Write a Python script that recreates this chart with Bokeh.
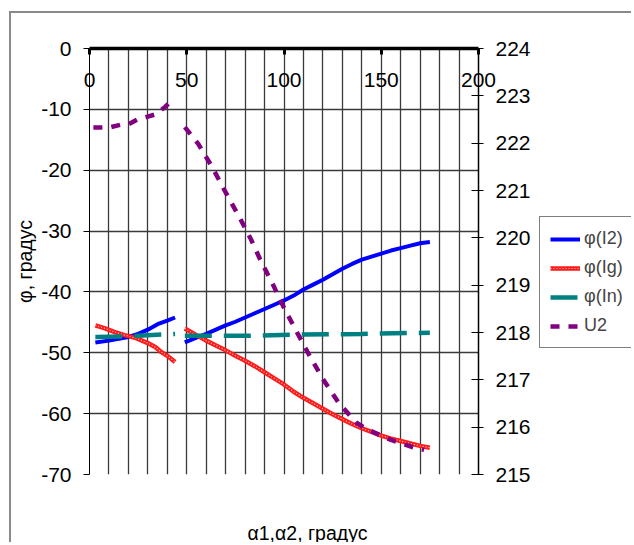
import numpy as np
from bokeh.plotting import figure
from bokeh.layouts import row
from bokeh.models import (Range1d, LinearAxis, FixedTicker, Legend, LegendItem, Title,
                          PrintfTickFormatter)
from bokeh.embed import file_html
from bokeh.resources import INLINE

# ---- data ----
x_ticks = [0, 50, 100, 150, 200]
y_left_ticks = [-70, -60, -50, -40, -30, -20, -10, 0]
y_right_ticks = [215, 216, 217, 218, 219, 220, 221, 222, 223, 224]

i2_x1 = [3, 10, 15, 20, 25, 30, 35, 40, 44]
i2_y1 = [-48.3, -48.0, -47.7, -47.4, -46.9, -46.2, -45.3, -44.7, -44.2]
i2_x2 = [49, 55, 60, 65, 70, 75, 80, 85, 90, 95, 100, 105, 110, 115, 120, 125,
         130, 135, 140, 145, 150, 155, 160, 165, 170, 175]
i2_y2 = [-48.3, -47.5, -46.9, -46.2, -45.5, -44.9, -44.2, -43.5, -42.8, -42.1,
         -41.4, -40.6, -39.6, -38.8, -38.0, -37.1, -36.2, -35.4, -34.7, -34.2,
         -33.7, -33.2, -32.8, -32.4, -32.0, -31.8]

ig_x1 = [3, 8, 13, 18, 24, 30, 34, 37, 40, 44]
ig_y1 = [-45.5, -46.0, -46.6, -47.1, -47.6, -48.4, -49.1, -49.9, -50.5, -51.5]
ig_x2 = [49, 55, 60, 65, 70, 75, 80, 85, 90, 95, 100, 105, 110, 115, 120, 125,
         130, 135, 140, 145, 150, 155, 160, 165, 170, 175]
ig_y2 = [-46.0, -47.1, -48.0, -48.8, -49.6, -50.5, -51.3, -52.2, -53.2, -54.2,
         -55.2, -56.4, -57.4, -58.3, -59.2, -60.1, -60.9, -61.7, -62.4, -63.0,
         -63.6, -64.1, -64.5, -64.9, -65.3, -65.6]

in_x1 = [3, 20, 30, 44]
in_y1 = [-47.4, -47.3, -47.1, -46.9]
in_x2 = [49, 80, 110, 140, 175]
in_y2 = [-47.2, -47.2, -47.0, -46.9, -46.7]

u2_x1 = [2, 10, 16, 20, 25, 30, 34, 39, 43]
u2_y1 = [222.33, 222.33, 222.39, 222.40, 222.51, 222.56, 222.61, 222.77, 222.93]
u2_x2 = [49, 56, 63, 70, 77, 83, 88, 94, 100, 107, 113, 120, 128, 137, 142, 153, 166, 172]
u2_y2 = [222.34, 221.98, 221.50, 220.96, 220.44, 219.97, 219.52, 219.04, 218.52,
         217.98, 217.52, 217.02, 216.52, 216.10, 215.97, 215.76, 215.58, 215.52]

series_names = ["φ(I2)", "φ(Ig)", "φ(In)", "U2"]


def join(a, b):
    return list(a) + [np.nan] + list(b)


FONT = "Liberation Sans"
BORDER = "2px solid #8a8a8a"

p = figure(width=522, height=531, output_backend="svg", toolbar_location=None,
           x_range=Range1d(0, 200), y_range=Range1d(-70, 0),
           x_axis_location="above",
           min_border_left=76, min_border_right=55, min_border_top=35, min_border_bottom=70,
           styles={"border-left": BORDER, "border-top": BORDER,
                   "margin-top": "11px", "margin-left": "9px"})
p.outline_line_color = None
p.background_fill_color = "white"
p.border_fill_color = "white"

# top x axis
xa = p.xaxis[0]
xa.ticker = FixedTicker(ticks=x_ticks)
xa.axis_line_width = 3.5
xa.axis_line_color = "black"
xa.major_tick_in = 6
xa.major_tick_out = 0
xa.major_tick_line_width = 3
xa.minor_tick_line_color = None
xa.major_label_standoff = -38
xa.major_label_text_font = FONT
xa.major_label_text_font_size = "21px"
xa.major_label_text_color = "black"

# left y axis
ya = p.yaxis[0]
ya.ticker = FixedTicker(ticks=y_left_ticks)
ya.formatter = PrintfTickFormatter(format="%d")
ya.axis_line_color = "black"
ya.major_tick_in = 0
ya.major_tick_out = 6
ya.minor_tick_line_color = None
ya.major_label_standoff = 12
ya.major_label_text_font = FONT
ya.major_label_text_font_size = "21px"
ya.major_label_text_color = "black"
ya.axis_label = "φ, градус"
ya.axis_label_standoff = 2
ya.axis_label_text_font = FONT
ya.axis_label_text_font_size = "19.5px"
ya.axis_label_text_font_style = "normal"
ya.axis_label_text_color = "black"

# right y axis
p.extra_y_ranges = {"u": Range1d(215, 224)}
ra = LinearAxis(y_range_name="u", ticker=FixedTicker(ticks=y_right_ticks))
ra.axis_line_color = "black"
ra.axis_line_width = 1.5
ra.major_tick_in = 7
ra.major_tick_out = 5
ra.minor_tick_line_color = None
ra.major_label_standoff = 12
ra.major_label_text_font = FONT
ra.major_label_text_font_size = "21px"
ra.major_label_text_color = "black"
p.add_layout(ra, "right")

# grid
p.xgrid.ticker = FixedTicker(ticks=list(range(0, 201, 10)))
p.xgrid.grid_line_color = "#3a3a3a"
p.xgrid.grid_line_width = 1.3
p.ygrid.grid_line_color = "#3a3a3a"
p.ygrid.grid_line_width = 1.3

STY = [
    dict(line_color="#0000ff", line_width=4),
    dict(line_color="#ff1a1a", line_width=4.5),
    dict(line_color="#ffd0d0", line_width=1.2, line_dash="1 2"),
    dict(line_color="#008080", line_width=4.5, line_dash="27 12"),
    dict(line_color="#800080", line_width=4.5, line_dash="9 9"),
]

# series
p.line(join(i2_x1, i2_x2), join(i2_y1, i2_y2), **STY[0])
p.line(join(ig_x1, ig_x2), join(ig_y1, ig_y2), **STY[1])
p.line(join(ig_x1, ig_x2), join(ig_y1, ig_y2), **STY[2])
p.line(join(in_x1, in_x2), join(in_y1, in_y2), **STY[3])
p.line(join(u2_x1, u2_x2), join(u2_y1, u2_y2), y_range_name="u", **STY[4])

# invisible spacer axis below the frame, then the axis title
spacer = LinearAxis(ticker=FixedTicker(ticks=[100]), major_label_overrides={100: ""})
spacer.axis_line_color = None
spacer.major_tick_out = 45
spacer.major_tick_in = 0
spacer.major_tick_line_color = None
spacer.minor_tick_line_color = None
spacer.major_label_standoff = 0
spacer.major_label_text_font_size = "1px"
p.add_layout(spacer, "below")

title = Title(text="α1,α2, градус", align="left", offset=158, standoff=0,
              text_font=FONT, text_font_size="19.5px", text_font_style="normal",
              text_color="black")
p.add_layout(title, "below")

# ---- legend panel (second, axis-less figure to the right) ----
q = figure(width=100, height=531, output_backend="svg", toolbar_location=None,
           x_range=Range1d(0, 1), y_range=Range1d(0, 1),
           x_axis_type=None, y_axis_type=None,
           min_border_left=0, min_border_right=0, min_border_top=0, min_border_bottom=0,
           styles={"border-top": BORDER, "margin-top": "11px"})
q.outline_line_color = None
q.background_fill_color = "white"
q.border_fill_color = "white"

# legend-only copies of the series (their data lie outside this panel's ranges)
d = [q.line(i2_x1, i2_y1, **STY[0]),
     q.line(ig_x1, ig_y1, **STY[1]),
     q.line(ig_x1, ig_y1, **STY[2]),
     q.line(in_x1, in_y1, **STY[3]),
     q.line(u2_x1, u2_y1, **STY[4])]
legend = Legend(items=[
    LegendItem(label=series_names[0], renderers=[d[0]]),
    LegendItem(label=series_names[1], renderers=[d[1], d[2]]),
    LegendItem(label=series_names[2], renderers=[d[3]]),
    LegendItem(label=series_names[3], renderers=[d[4]]),
], location=(8, 126))
legend.border_line_color = "black"
legend.border_line_width = 1
legend.background_fill_color = "white"
legend.background_fill_alpha = 1
legend.padding = 10
legend.spacing = 6
legend.label_height = 23
legend.glyph_width = 30
legend.glyph_height = 20
legend.label_standoff = 4
legend.label_text_font = FONT
legend.label_text_font_size = "18px"
legend.margin = 0
q.add_layout(legend, "center")

layout = row(p, q)
open("out.html", "w").write(file_html(layout, INLINE))
